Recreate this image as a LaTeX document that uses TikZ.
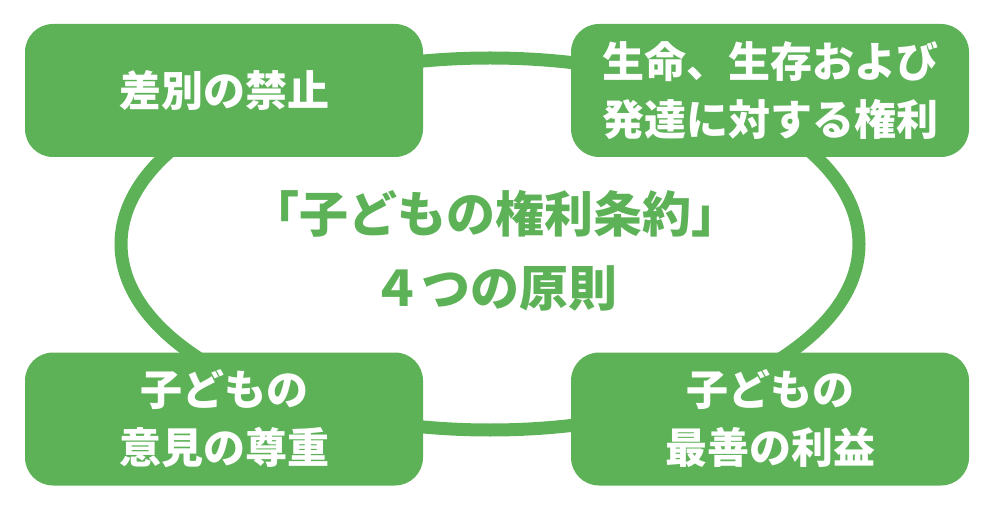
\documentclass[tikz,border=0pt]{standalone}
\usepackage{fontspec}
\setmainfont{Noto Sans CJK JP}
\definecolor{kgreen}{RGB}{93,178,88}

\begin{document}
\begin{tikzpicture}[
  x=1pt, y=-1pt,
  every node/.style={align=center, font=\bfseries},
  principle/.style={fill=kgreen, rounded corners=28pt, minimum width=398pt, minimum height=133pt, inner sep=0pt, text=white, font=\bfseries\fontsize{42}{58}\selectfont},
  title/.style={text=kgreen, font=\bfseries\fontsize{49}{74}\selectfont},
  ring/.style={draw=kgreen, line width=13pt}
]

% Frame
\useasboundingbox (0,0) rectangle (992,510);

% Ring
\coordinate (mid) at (490,244);
\draw[ring] (mid) ellipse [x radius=369pt, y radius=186pt];

% Nodes
\node[principle] (ban) at (224,90.5) {差別の禁止};
\node[principle] (life) at (770,90.5) {生命、生存および\\発達に対する権利};
\node[principle] (voice) at (224,419) {子どもの\\意見の尊重};
\node[principle] (best) at (770,419) {子どもの\\最善の利益};
\node[title] (crc) at (495,251) {「子どもの権利条約」\\４つの原則};

\end{tikzpicture}
\end{document}
